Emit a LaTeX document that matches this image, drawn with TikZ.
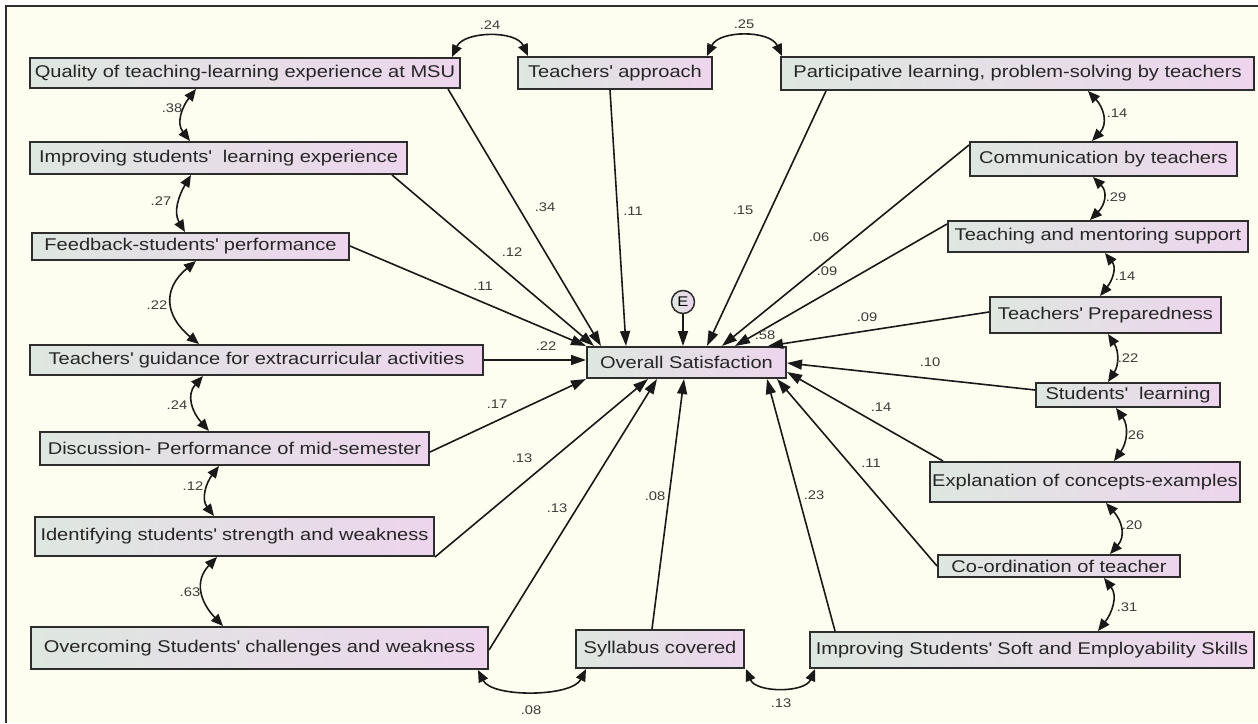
\documentclass[tikz,border=0pt]{standalone}
\usepackage{fontspec}
\setmainfont{Liberation Sans}[FakeStretch=1.18]
\usetikzlibrary{arrows.meta,calc}
\definecolor{bg}{RGB}{253,253,240}
\definecolor{boxl}{RGB}{222,231,224}
\definecolor{boxr}{RGB}{237,213,237}
\definecolor{edge}{RGB}{45,45,45}
\definecolor{lbl}{RGB}{60,60,60}
\newcommand{\ap}{\textquotesingle}
\tikzset{
  box/.style={draw=edge, line width=2pt, left color=boxl, right color=boxr, inner sep=0pt,
    font=\fontsize{17}{20}\selectfont, text=black!85},
  regr/.style={draw=black!90, line width=1.6pt, -{Triangle[length=15pt,width=10pt]}},
  cov/.style={draw=black!90, line width=1.6pt, {Triangle[length=12pt,width=10pt]}-{Triangle[length=12pt,width=10pt]}},
  lab/.style={font=\fontsize{12.5}{14}\selectfont, text=lbl, inner sep=0pt},
}
\begin{document}
\begin{tikzpicture}[x=1pt, y=-1pt]
\useasboundingbox (0,0) rectangle (1258,723);
\fill[white] (0,0) rectangle (1258,723);
\fill[bg] (6,6) rectangle (1258,723);
\draw[edge, line width=1.4pt] (6,723) -- (6,6) -- (1258,6);

% nodes
\node[box, minimum width=430pt, minimum height=30pt] (q) at (245,73) {Quality of teaching-learning experience at MSU};
\node[box, minimum width=194pt, minimum height=32pt] (ta) at (615,73) {Teachers\ap{} approach};
\node[box, minimum width=473pt, minimum height=33pt] (pl) at (1017.5,73.5) {Participative learning, problem-solving by teachers};
\node[box, minimum width=377pt, minimum height=32pt] (isl) at (218.5,158) {Improving students\ap{}\ \ learning experience};
\node[box, minimum width=267pt, minimum height=34pt] (cbt) at (1103.5,159) {Communication by teachers};
\node[box, minimum width=317pt, minimum height=27pt] (fb) at (190.5,246.5) {Feedback-students\ap{} performance};
\node[box, minimum width=300pt, minimum height=31pt] (tms) at (1098,236.5) {Teaching and mentoring support};
\node[box, minimum width=453pt, minimum height=30pt] (tg) at (256.5,360) {Teachers\ap{} guidance for extracurricular activities};
\node[box, minimum width=199pt, minimum height=31pt] (os) at (686.5,362.5) {Overall Satisfaction};
\node[circle, draw=edge, line width=1.5pt, left color=boxl, right color=boxr, minimum size=23pt, inner sep=0pt,
  font=\fontsize{14}{14}\selectfont] (E) at (683,302) {E};
\node[box, minimum width=231pt, minimum height=36pt] (tp) at (1105.5,315) {Teachers\ap{} Preparedness};
\node[box, minimum width=184pt, minimum height=24pt] (sl) at (1128,395) {Students\ap{}\ \ learning};
\node[box, minimum width=389pt, minimum height=33pt] (dis) at (234.5,448.5) {Discussion- Performance of mid-semester};
\node[box, minimum width=310pt, minimum height=40pt] (exp) at (1085,482) {Explanation of concepts-examples};
\node[box, minimum width=399pt, minimum height=39pt] (id) at (234.5,536.5) {Identifying students\ap{} strength and weakness};
\node[box, minimum width=242pt, minimum height=22pt] (co) at (1059,566) {Co-ordination of teacher};
\node[box, minimum width=457pt, minimum height=42pt] (ov) at (259.5,648) {Overcoming Students\ap{} challenges and weakness};
\node[box, minimum width=168pt, minimum height=38pt] (syl) at (660,649) {Syllabus covered};
\node[box, minimum width=444pt, minimum height=36pt] (soft) at (1032,650) {Improving Students\ap{} Soft and Employability Skills};

% regression paths
\draw[regr] (q.south -| 448,0) -- (os.north -| 601,0);
\draw[regr] (ta.south -| 610,0) -- (os.north -| 626,0);
\draw[regr] (pl.south -| 826,0) -- (os.north -| 707,0);
\draw[regr] (isl.south -| 392,0) -- (os.north -| 594,0);
\draw[regr] (cbt.west |- 0,145) -- (os.north -| 722,0);
\draw[regr] (tms.west |- 0,224) -- (os.north -| 735,0);
\draw[regr] (fb.east |- 0,246) -- (os.north west);
\draw[regr] (tg.east) -- (os.west |- tg.east);
\draw[regr] (tp.west |- 0,312) -- (os.north -| 768,0);
\draw[regr] (sl.west |- 0,390) -- (os.east |- 0,363);
\draw[regr] (exp.north -| 943,0) -- (os.east |- 0,372);
\draw[regr] (co.west) -- (os.south -| 777,0);
\draw[regr] (soft.north -| 835,0) -- (os.south -| 767,0);
\draw[regr] (syl.north -| 652,0) -- (os.south -| 684,0);
\draw[regr] (ov.east |- 0,650) -- (os.south -| 657,0);
\draw[regr] (id.south east) -- (os.south -| 648,0);
\draw[regr] (dis.east |- 0,452) -- (os.south west);
\draw[regr] (E.south) -- (os.north -| E.south);

% covariances left
\draw[cov] (q.south -| 196,0) .. controls +(-14,18) and +(-14,-18) .. (isl.north -| 190,0);
\draw[cov] (isl.south -| 191,0) .. controls +(-12,20) and +(-12,-20) .. (fb.north -| 185,0);
\draw[cov] (fb.south -| 196,0) .. controls +(-34,28) and +(-34,-28) .. (tg.north -| 199,0);
\draw[cov] (tg.south -| 203,0) .. controls +(-17,19) and +(-17,-19) .. (dis.north -| 209,0);
\draw[cov] (dis.south -| 219,0) .. controls +(-13,17) and +(-13,-17) .. (id.north -| 214,0);
\draw[cov] (id.south -| 217,0) .. controls +(-23,24) and +(-23,-24) .. (ov.north -| 223,0);
% covariances right
\draw[cov] (pl.south -| 1088,0) .. controls +(16,17) and +(16,-17) .. (cbt.north -| 1092,0);
\draw[cov] (cbt.south -| 1093,0) .. controls +(15,15) and +(15,-15) .. (tms.north -| 1090,0);
\draw[cov] (tms.south -| 1105,0) .. controls +(12,15) and +(12,-15) .. (tp.north -| 1100,0);
\draw[cov] (tp.south -| 1108,0) .. controls +(11,17) and +(11,-17) .. (sl.north -| 1108,0);
\draw[cov] (sl.south -| 1116,0) .. controls +(13,18) and +(13,-18) .. (exp.north -| 1114,0);
\draw[cov] (exp.south -| 1106,0) .. controls +(16,18) and +(16,-18) .. (co.north -| 1110,0);
\draw[cov] (co.south -| 1104,0) .. controls +(14,18) and +(14,-18) .. (soft.north -| 1098,0);
% covariances top / bottom
\draw[cov] (q.north -| 452,0) .. controls +(12,-26) and +(-12,-26) .. (ta.north -| 528,0);
\draw[cov] (ta.north -| 707,0) .. controls +(12,-26) and +(-12,-26) .. (pl.north -| 782,0);
\draw[cov] (ov.south -| 478,0) .. controls +(14,28) and +(-14,28) .. (syl.south -| 586,0);
\draw[cov] (syl.south -| 746,0) .. controls +(10,24) and +(-10,24) .. (soft.south -| 815,0);

% covariance labels
\node[lab] (c1) at (490,25) {.24};
\node[lab] (c2) at (744,24) {.25};
\node[lab] (c3) at (172,108) {.38};
\node[lab] (c4) at (161,201) {.27};
\node[lab] (c5) at (157,305) {.22};
\node[lab] (c6) at (177,405) {.24};
\node[lab] (c7) at (193,486) {.12};
\node[lab] (c8) at (190,592) {.63};
\node[lab] (c9) at (531,710) {.08};
\node[lab] (c10) at (781,703) {.13};
\node[lab] (c11) at (1117,113) {.14};
\node[lab] (c12) at (1116,197) {.29};
\node[lab] (c13) at (1125,276) {.14};
\node[lab] (c14) at (1128,358) {.22};
\node[lab] (c15) at (1134,435) {.26};
\node[lab] (c16) at (1132,525) {.20};
\node[lab] (c17) at (1127,607) {.31};
% path labels
\node[lab] (p1) at (545,207) {.34};
\node[lab] (p2) at (633,211) {.11};
\node[lab] (p3) at (743,210) {.15};
\node[lab] (p4) at (512,252) {.12};
\node[lab] (p5) at (819,237) {.06};
\node[lab] (p6) at (827,271) {.09};
\node[lab] (p7) at (483,286) {.11};
\node[lab] (p8) at (546,346) {.22};
\node[lab] (p9) at (765,335) {.58};
\node[lab] (p10) at (867,317) {.09};
\node[lab] (p11) at (930,362) {.10};
\node[lab] (p12) at (881,407) {.14};
\node[lab] (p13) at (871,463) {.11};
\node[lab] (p14) at (814,495) {.23};
\node[lab] (p15) at (655,496) {.08};
\node[lab] (p16) at (497,404) {.17};
\node[lab] (p17) at (522,458) {.13};
\node[lab] (p18) at (557,508) {.13};
\end{tikzpicture}
\end{document}
